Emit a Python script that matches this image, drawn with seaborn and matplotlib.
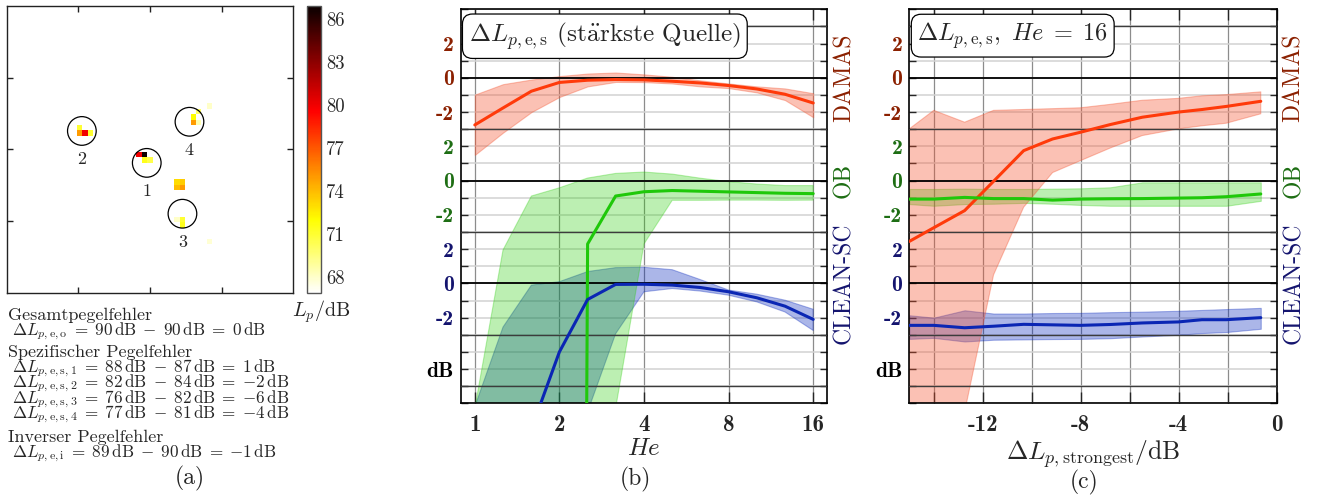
import matplotlib
matplotlib.use("Agg")
import numpy as np
import pandas as pd
import matplotlib.pyplot as plt
import matplotlib.transforms as mtransforms
from matplotlib.patches import Circle
from matplotlib.ticker import FixedLocator, FixedFormatter
import seaborn as sns

# ---------------- data: (a) source map ----------------
map_n = 53
map_col = [24, 25, 25, 26, 13, 14, 15, 13, 34, 34, 35, 35, 37, 31, 32, 31, 32, 32, 32, 31, 37]
map_row = [27, 27, 28, 28, 23, 23, 23, 22, 21, 20, 21, 19, 18, 32, 32, 33, 33, 39, 40, 39, 43]
map_val = [80.0, 86.9, 71.5, 70.5, 75.0, 80.0, 71.0, 71.0, 75.0, 72.0, 68.5, 70.0, 68.0,
           73.0, 73.5, 74.0, 75.0, 71.0, 71.5, 68.0, 67.8]
map_vmin, map_vmax = 66.9, 86.9
cbar_ticks = [68, 71, 74, 77, 80, 83, 86]
src_x = [25.9, 13.9, 32.5, 33.8]
src_y = [29.0, 23.1, 38.4, 21.4]
src_labels = ["1", "2", "3", "4"]

# ---------------- data: (b) vs He ----------------
he = [1.0, 1.26, 1.59, 2.0, 2.52, 3.17, 4.0, 5.04, 6.35, 8.0, 10.08, 12.7, 16.0]
b_damas = [-2.75, -1.76, -0.78, -0.27, -0.14, -0.10, -0.12, -0.20, -0.30, -0.45, -0.65, -0.96, -1.47]
b_damas_hi = [-0.98, -0.37, -0.10, 0.10, 0.25, 0.31, 0.20, 0.06, -0.15, -0.33, -0.50, -0.62, -0.90]
b_damas_lo = [-4.5, -3.2, -2.0, -1.12, -0.50, -0.24, -0.25, -0.33, -0.50, -0.60, -0.85, -1.30, -2.30]
b_ob = [-300, -300, -300, -300, -3.7, -0.90, -0.65, -0.58, -0.62, -0.66, -0.70, -0.74, -0.76]
b_ob_hi = [-13.3, -4.05, -0.90, -0.42, 0.15, 0.42, 0.50, 0.38, 0.14, -0.06, -0.20, -0.29, -0.29]
b_ob_lo = [-300, -300, -300, -300, -300, -13.3, -3.7, -1.15, -1.15, -1.14, -1.14, -1.15, -1.14]
b_clean = [-20.0, -14.0, -8.5, -4.0, -0.94, -0.06, -0.05, -0.10, -0.24, -0.49, -0.84, -1.33, -2.10]
b_clean_hi = [-7.2, -2.55, -0.10, 0.10, 0.69, 0.92, 0.94, 0.80, 0.22, -0.39, -0.63, -0.98, -1.51]
b_clean_lo = [-30, -30, -30, -30, -7.5, -2.94, -0.49, -0.30, -0.45, -0.69, -1.08, -1.67, -2.75]

# ---------------- data: (c) vs level of strongest source ----------------
dl = [-15.0, -14.0, -12.74, -11.56, -10.33, -9.15, -8.02, -6.8, -5.49, -4.02, -3.05, -2.06, -0.65]
c_damas = [-9.55, -8.75, -7.75, -6.04, -4.25, -3.57, -3.18, -2.73, -2.30, -2.00, -1.85, -1.67, -1.37]
c_damas_hi = [-2.98, -1.90, -2.59, -1.90, -1.85, -1.80, -1.75, -1.55, -1.31, -1.20, -1.05, -0.98, -0.82]
c_damas_lo = [-30, -30, -19.5, -11.5, -7.55, -5.53, -4.84, -4.10, -3.37, -2.98, -2.80, -2.65, -2.10]
c_ob = [-1.08, -1.08, -0.98, -1.05, -1.05, -1.14, -1.08, -1.06, -1.05, -1.02, -1.00, -0.94, -0.78]
c_ob_hi = [-0.49, -0.49, -0.47, -0.49, -0.49, -0.47, -0.45, -0.39, -0.10, -0.10, -0.10, -0.10, -0.10]
c_ob_lo = [-1.37, -1.47, -1.37, -1.35, -1.30, -1.35, -1.42, -1.47, -1.47, -1.47, -1.47, -1.47, -1.18]
c_clean = [-2.45, -2.45, -2.59, -2.50, -2.39, -2.42, -2.45, -2.40, -2.31, -2.25, -2.12, -2.12, -2.00]
c_clean_hi = [-1.86, -2.00, -1.57, -1.76, -1.76, -1.73, -1.72, -1.68, -1.65, -1.60, -1.55, -1.50, -1.43]
c_clean_lo = [-3.24, -3.18, -3.39, -3.29, -3.27, -3.25, -3.24, -3.20, -3.10, -3.00, -2.90, -2.84, -2.65]

methods = ["DAMAS", "OB", "CLEAN-SC"]
band_offset = {"DAMAS": 12, "OB": 6, "CLEAN-SC": 0}
band_ticks = [2, 0, -2]
he_ticks = [1, 2, 4, 8, 16]
dl_ticks = [-12, -8, -4, 0]

text_lines = [
    ("Gesamtpegelfehler", False),
    (r"$\Delta L_{p,\mathrm{e,o}}\;=\;90\,\mathrm{dB}\;-\;90\,\mathrm{dB}\;=\;0\,\mathrm{dB}$", True),
    ("Spezifischer Pegelfehler", False),
    (r"$\Delta L_{p,\mathrm{e,s,1}}\;=\;88\,\mathrm{dB}\;-\;87\,\mathrm{dB}\;=\;1\,\mathrm{dB}$", True),
    (r"$\Delta L_{p,\mathrm{e,s,2}}\;=\;82\,\mathrm{dB}\;-\;84\,\mathrm{dB}\;=\;{-2}\,\mathrm{dB}$", True),
    (r"$\Delta L_{p,\mathrm{e,s,3}}\;=\;76\,\mathrm{dB}\;-\;82\,\mathrm{dB}\;=\;{-6}\,\mathrm{dB}$", True),
    (r"$\Delta L_{p,\mathrm{e,s,4}}\;=\;77\,\mathrm{dB}\;-\;81\,\mathrm{dB}\;=\;{-4}\,\mathrm{dB}$", True),
    ("Inverser Pegelfehler", False),
    (r"$\Delta L_{p,\mathrm{e,i}}\;=\;89\,\mathrm{dB}\;-\;90\,\mathrm{dB}\;=\;{-1}\,\mathrm{dB}$", True),
]
text_y = [315, 331.5, 352, 368, 383.5, 399, 414, 437, 453]

# ---------------- style ----------------
sns.set_style("ticks")
plt.rcParams["font.family"] = ["cmr10", "DejaVu Serif"]
plt.rcParams["mathtext.fontset"] = "cm"
plt.rcParams["axes.unicode_minus"] = False
plt.rcParams["axes.formatter.use_mathtext"] = True

line_col = {"DAMAS": "#ff3a0a", "OB": "#1fc80a", "CLEAN-SC": "#0a26b4"}
fill_col = {"DAMAS": "#f4532f", "OB": "#22cc00", "CLEAN-SC": "#0022bb"}
fill_alpha = {"DAMAS": 0.36, "OB": 0.30, "CLEAN-SC": 0.33}
lab_col = {"DAMAS": "#8b2000", "OB": "#1e6e14", "CLEAN-SC": "#14146e"}

W, H = 1317, 497
fig = plt.figure(figsize=(W / 100, H / 100), dpi=100)


def px_axes(l, t, r, b):
    return fig.add_axes([l / W, 1 - b / H, (r - l) / W, (b - t) / H])


# ---------------- (a) map ----------------
ax_m = px_axes(6.7, 6.0, 293.3, 292.7)
ax_cb = px_axes(306.7, 6.0, 320.7, 293.0)
grid = np.full((map_n, map_n), np.nan)
for c, r, v in zip(map_col, map_row, map_val):
    grid[r, c] = v
sns.heatmap(pd.DataFrame(grid), mask=np.isnan(grid), cmap="hot_r", vmin=map_vmin, vmax=map_vmax,
            ax=ax_m, cbar_ax=ax_cb, xticklabels=False, yticklabels=False)
for s in ax_m.spines.values():
    s.set_visible(True)
    s.set_color("#222222")
    s.set_linewidth(1.0)
ax_m.set_xticks([map_n / 4, map_n / 2, 3 * map_n / 4])
ax_m.set_yticks([map_n / 4, map_n / 2, 3 * map_n / 4])
ax_m.set_xticklabels([])
ax_m.set_yticklabels([])
ax_m.tick_params(direction="in", length=4, width=1, top=True, right=True, bottom=True, left=True,
                 color="#222222")
for x, y, lab in zip(src_x, src_y, src_labels):
    ax_m.add_patch(Circle((x, y), 2.65, fill=False, ec="black", lw=0.9))
    ax_m.text(x, y + 5.2, lab, ha="center", va="center", fontsize=13)
cb = ax_m.collections[0].colorbar
cb.outline.set_linewidth(1.0)
cb.outline.set_edgecolor("#555555")
cb.set_ticks(cbar_ticks)
cb.set_ticklabels([str(t) for t in cbar_ticks])
ax_cb.tick_params(labelsize=13.5, direction="in", length=3, right=True, left=True, pad=4)
fig.text(321 / W, 1 - 312 / H, r"$L_p/\mathrm{dB}$", ha="center", va="center", fontsize=14.5)

for (txt, is_math), y in zip(text_lines, text_y):
    fig.text((12 if is_math else 8) / W, 1 - y / H, txt, ha="left", va="center",
             fontsize=12.3 if is_math else 13)
fig.text(190 / W, 1 - 478 / H, "(a)", ha="center", va="center", fontsize=17)


# ---------------- helper for (b), (c) ----------------
def make_df(x, series):
    rows = []
    for m in methods:
        mean, lo, hi = series[m]
        off = band_offset[m]
        for xi, yi, li, hi_ in zip(x, mean, lo, hi):
            rows.append({"x": xi, "method": m, "y": yi + off, "lo": li + off, "hi": hi_ + off})
    return pd.DataFrame(rows)


def draw_panel(ax, df, title, title_size):
    ax.set_ylim(-7, 16)
    for m in ["CLEAN-SC", "OB", "DAMAS"]:
        d = df[df["method"] == m]
        ax.fill_between(d["x"], d["lo"], d["hi"], color=fill_col[m], alpha=fill_alpha[m],
                        lw=0.8, zorder=2)
    sns.lineplot(data=df, x="x", y="y", hue="method", hue_order=methods, palette=line_col,
                 estimator=None, sort=False, legend=False, lw=2.2, ax=ax, zorder=5)
    # y ticks
    pos = list(range(-7, 17))
    labels = {}
    colors = {}
    for m in methods:
        for t in band_ticks:
            labels[band_offset[m] + t] = str(t)
            colors[band_offset[m] + t] = lab_col[m]
    labels[-5] = "dB"
    colors[-5] = "black"
    ax.yaxis.set_major_locator(FixedLocator(pos))
    ax.yaxis.set_major_formatter(FixedFormatter([labels.get(p, "") for p in pos]))
    for tick, p in zip(ax.yaxis.get_major_ticks(), pos):
        tick.label1.set_color(colors.get(p, "black"))
    ax.tick_params(axis="y", direction="in", length=5, width=1, left=True, right=True,
                   labelsize=15.5, pad=5, labelfontfamily="cmb10")
    ax.tick_params(axis="x", direction="in", length=8, width=1, top=True, bottom=True,
                   labelsize=16.5, pad=8, labelfontfamily="cmb10")
    ax.minorticks_off()
    ax.grid(axis="y", color="#d2d2d2", lw=1.1, zorder=0)
    ax.grid(axis="x", color="#8c8c8c", lw=0.9, zorder=0)
    ax.set_axisbelow(True)
    for m in methods:
        ax.axhline(band_offset[m], color="black", lw=1.3, zorder=3)
    for yy in [-6, -3, 3, 9, 15]:
        ax.axhline(yy, color="#3c3c3c", lw=1.0, zorder=3)
    for s in ax.spines.values():
        s.set_color("black")
        s.set_linewidth(1.2)
    tr = mtransforms.blended_transform_factory(ax.transAxes, ax.transData)
    for m in methods:
        ax.text(1.046, band_offset[m], m, rotation=90, ha="center", va="center",
                color=lab_col[m], fontsize=17, transform=tr)
    ax.text(0.022, 0.972, title, transform=ax.transAxes, ha="left", va="top", fontsize=title_size,
            zorder=10,
            bbox=dict(boxstyle="round,pad=0.25,rounding_size=0.4", fc="white", ec="black", lw=0.9))


# ---------------- (b) ----------------
ax_b = px_axes(460.7, 9.3, 827.3, 403.3)
df_b = make_df(he, {"DAMAS": (b_damas, b_damas_lo, b_damas_hi),
                    "OB": (b_ob, b_ob_lo, b_ob_hi),
                    "CLEAN-SC": (b_clean, b_clean_lo, b_clean_hi)})
ax_b.set_xscale("log", base=2)
draw_panel(ax_b, df_b, r"$\Delta L_{p,\mathrm{e,s}}$ (st$\ddot{\mathrm{a}}$rkste Quelle)", 18.2)
ax_b.set_xlim(1 / 2 ** (1 / 6), 16 * 2 ** (1 / 6))
ax_b.xaxis.set_major_locator(FixedLocator(he_ticks))
ax_b.xaxis.set_major_formatter(FixedFormatter([str(t) for t in he_ticks]))
ax_b.xaxis.set_minor_locator(FixedLocator([]))
ax_b.set_xlabel(r"$He$", fontsize=18, labelpad=1)
ax_b.set_ylabel("")
fig.text(635 / W, 1 - 479 / H, "(b)", ha="center", va="center", fontsize=17)

# ---------------- (c) ----------------
ax_c = px_axes(909.3, 9.3, 1276.7, 403.3)
df_c = make_df(dl, {"DAMAS": (c_damas, c_damas_lo, c_damas_hi),
                    "OB": (c_ob, c_ob_lo, c_ob_hi),
                    "CLEAN-SC": (c_clean, c_clean_lo, c_clean_hi)})
draw_panel(ax_c, df_c, r"$\Delta L_{p,\mathrm{e,s}},\ He\;=\;16$", 17.5)
ax_c.set_xlim(-15, 0)
xt = list(range(-14, 1, 2))
ax_c.xaxis.set_major_locator(FixedLocator(xt))
ax_c.xaxis.set_major_formatter(FixedFormatter([str(t) if t in dl_ticks else "" for t in xt]))
ax_c.set_xlabel(r"$\Delta L_{p,\mathrm{strongest}}/\mathrm{dB}$", fontsize=18.5, labelpad=1)
ax_c.set_ylabel("")
fig.text(1084 / W, 1 - 482 / H, "(c)", ha="center", va="center", fontsize=17)

fig.savefig("out.png", dpi=100)
